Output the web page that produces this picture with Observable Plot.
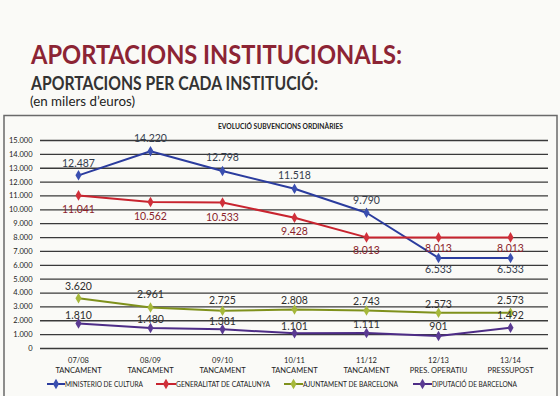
<!DOCTYPE html>
<html><head><meta charset="utf-8">
<script src="https://cdn.jsdelivr.net/npm/d3@7"></script>
<script src="https://cdn.jsdelivr.net/npm/@observablehq/plot@0.6"></script>
<style>
body{margin:0;background:#fafaf7;}
#page{position:relative;width:560px;height:396px;overflow:hidden;font-family:Lato,"Open Sans",sans-serif;background:#fafaf7;}
#chart{position:absolute;left:0;top:120px;}
#overlay{position:absolute;left:0;top:0;pointer-events:none;}
</style></head>
<body><div id="page"><div id="chart"></div>
<svg id="overlay" width="560" height="396" xmlns="http://www.w3.org/2000/svg"></svg></div>
<script>
// ---- data ----
const periodCodes = ["07/08","08/09","09/10","10/11","11/12","12/13","13/14"];
const periodTypes = ["TANCAMENT","TANCAMENT","TANCAMENT","TANCAMENT","TANCAMENT","PRES. OPERATIU","PRESSUPOST"];
const seriesNames = ["MINISTERIO DE CULTURA","GENERALITAT DE CATALUNYA","AJUNTAMENT DE BARCELONA","DIPUTACIÓ DE BARCELONA"];
const ministerio = [12487,14220,12798,11518,9790,6533,6533];
const generalitat = [11041,10562,10533,9428,8013,8013,8013];
const ajuntament = [3620,2961,2725,2808,2743,2573,2573];
const diputacio = [1810,1480,1381,1101,1111,901,1492];
const yTicks = [0,1000,2000,3000,4000,5000,6000,7000,8000,9000,10000,11000,12000,13000,14000,15000];
const title = "APORTACIONS INSTITUCIONALS:";
const subtitle = "APORTACIONS PER CADA INSTITUCIÓ:";
const unitNote = "(en milers d’euros)";
const chartTitle = "EVOLUCIÓ SUBVENCIONS ORDINÀRIES";

// ---- styles ----
const lineColors = ["#2b3c9e","#c8242f","#7f911c","#4d2c86"];
const dotColors = ["#3a4fb0","#d0303a","#a6b83a","#5a3a92"];
const labelColors = ["#343c4c","#8a1f2c","#2e2e2e","#2e2e2e"];
// label vertical offsets (px) per series/point, style only
const labelDy = [
  [-12,-13,-13,-13,-12,12,12],
  [14,15,15,14,13,11,11],
  [-12,-13,-10,-9,-9,-8,-12],
  [-8,-8,-8,-7,-8,-9,-12]
];

const seriesValues = [ministerio, generalitat, ajuntament, diputacio];
const rows = [];
seriesValues.forEach((vals, s) => vals.forEach((v, i) => rows.push({serie: seriesNames[s], s, i, period: periodCodes[i], value: v})));

const fmt = v => d3.format(",")(v).replace(/,/g, ".");

const labelMarks = [];
rows.forEach(r => {
  labelMarks.push(Plot.text([r], {x: "period", y: "value", text: d => fmt(d.value), dy: labelDy[r.s][r.i],
    fill: labelColors[r.s], fontSize: 10.5, fontFamily: "Lato"}));
});

const chart = Plot.plot({
  width: 560, height: 260,
  marginTop: 20, marginBottom: 32, marginLeft: 40, marginRight: 12,
  style: {background: "transparent", fontFamily: "Lato", overflow: "visible"},
  x: {type: "point", domain: periodCodes, padding: 0.5, axis: null},
  y: {domain: [0, 15000], axis: null},
  color: {domain: seriesNames, range: lineColors},
  marks: [
    Plot.ruleY(yTicks, {stroke: "#3a3a3a", strokeWidth: 1.3}),
    Plot.axisY({ticks: yTicks, tickFormat: fmt, tickSize: 0, tickPadding: 8, fontSize: 7.5, fill: "#222", label: null}),
    Plot.axisX({tickSize: 0, tickPadding: 7, fontSize: 7.5, fill: "#222", label: null, lineHeight: 1.35,
      tickFormat: (d) => d + "\n" + periodTypes[periodCodes.indexOf(d)]}),
    Plot.line(rows, {x: "period", y: "value", z: "serie", stroke: "serie", strokeWidth: 2}),
    Plot.dot(rows, {x: "period", y: "value", symbol: "diamond", r: 3.2, fill: d => dotColors[d.s], stroke: "none"}),
    ...labelMarks
  ]
});
document.getElementById("chart").appendChild(chart);

// ---- titles, frame and legend ----
const ov = d3.select("#overlay");
ov.append("rect").attr("x", 4).attr("y", 115.5).attr("width", 553).attr("height", 300)
  .attr("fill", "none").attr("stroke", "#6a6a6a").attr("stroke-width", 1.5);
ov.append("text").attr("x", 31).attr("y", 64).text(title)
  .attr("font-family", "Lato").attr("font-weight", 700).attr("font-size", 27).attr("fill", "#8c2434")
  .attr("textLength", 371).attr("lengthAdjust", "spacingAndGlyphs");
ov.append("text").attr("x", 31).attr("y", 90).text(subtitle)
  .attr("font-family", "Lato").attr("font-weight", 700).attr("font-size", 18).attr("fill", "#333")
  .attr("textLength", 287).attr("lengthAdjust", "spacingAndGlyphs");
ov.append("text").attr("x", 30).attr("y", 106).text(unitNote)
  .attr("font-family", "Lato").attr("font-size", 13).attr("fill", "#222")
  .attr("textLength", 105).attr("lengthAdjust", "spacingAndGlyphs");
ov.append("text").attr("x", 218).attr("y", 129).text(chartTitle)
  .attr("font-family", "Lato").attr("font-weight", 700).attr("font-size", 7).attr("fill", "#222")
  .attr("textLength", 125).attr("lengthAdjust", "spacingAndGlyphs");

const legendX = [[47, 65, 78], [156, 176, 94], [284, 303, 95], [413, 432, 85]];
seriesNames.forEach((name, s) => {
  const [x1, x2, tl] = legendX[s];
  const y = 384;
  ov.append("line").attr("x1", x1).attr("x2", x2).attr("y1", y).attr("y2", y)
    .attr("stroke", lineColors[s]).attr("stroke-width", 2);
  ov.append("path").attr("d", d3.symbol(d3.symbolDiamond, 32)()).attr("transform", `translate(${(x1 + x2) / 2},${y})`)
    .attr("fill", dotColors[s]);
  ov.append("text").attr("x", x2).attr("y", y + 2.7).text(name)
    .attr("font-family", "Lato").attr("font-size", 7.5).attr("fill", "#222")
    .attr("textLength", tl).attr("lengthAdjust", "spacingAndGlyphs");
});
</script></body></html>
